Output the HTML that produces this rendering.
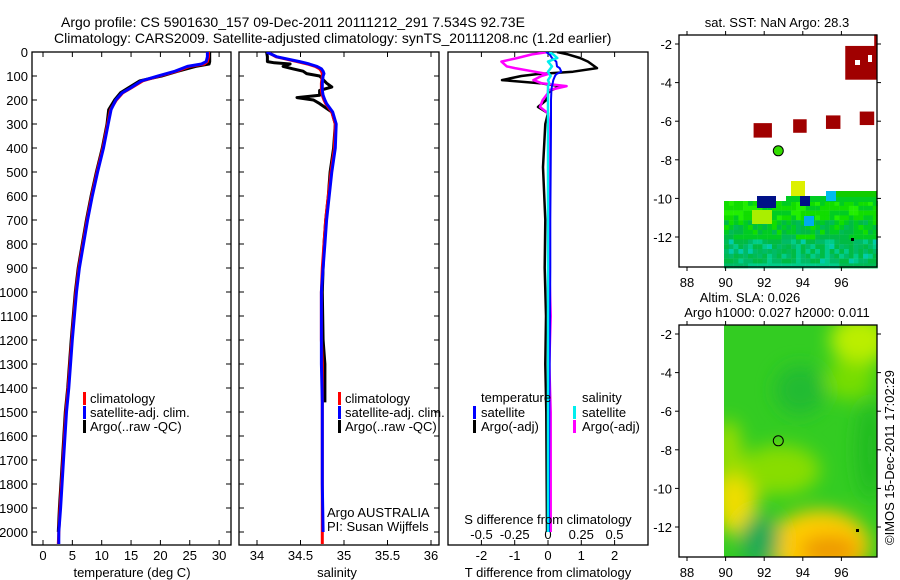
<!DOCTYPE html>
<html><head><meta charset="utf-8">
<style>
html,body{margin:0;padding:0;background:#fff;}
svg{display:block;font-family:"Liberation Sans",sans-serif;}
text{font-size:13px;fill:#000;}
</style></head>
<body>
<svg id="fig" width="900" height="580" viewBox="0 0 900 580">
<defs>
<clipPath id="c1"><rect x="32" y="52" width="199" height="493"/></clipPath>
<clipPath id="c2"><rect x="239" y="52" width="200" height="493"/></clipPath>
<clipPath id="c3"><rect x="448" y="52" width="200" height="493"/></clipPath>
<clipPath id="cm2"><rect x="724" y="325" width="153" height="232"/></clipPath>
<filter id="blur" x="-50%" y="-50%" width="200%" height="200%"><feGaussianBlur stdDeviation="9"/></filter>
</defs>
<text x="61" y="27" style="font-size:14px">Argo profile: CS 5901630_157 09-Dec-2011 20111212_291 7.534S 92.73E</text>
<text x="54" y="43" style="font-size:14px">Climatology: CARS2009. Satellite-adjusted climatology: synTS_20111208.nc (1.2d earlier)</text>
<g id="g1"></g>
<g id="g2"></g>
<g id="g3"></g>
<g id="m1"></g>
<g id="m2"></g>
<text transform="translate(894,545) rotate(-90)">©IMOS 15-Dec-2011 17:02:29</text>
</svg>
<script>
// ---- data ----
const depths = [0,20,40,50,60,80,100,120,150,170,200,240,300,400,500,600,700,800,900,1000,1200,1400,1500,1700,1900,2000,2050];
const tempClim = [28.2,28.2,28.0,27.5,25.0,22.8,19.8,17.0,15.0,13.6,12.5,11.5,11.0,10.2,9.2,8.3,7.5,6.8,6.1,5.6,4.9,4.3,3.9,3.4,2.9,2.7,2.6];
const tempSat  = [28.0,28.0,27.8,27.0,24.6,22.5,19.6,16.8,14.9,13.5,12.4,11.6,11.1,10.3,9.3,8.4,7.6,6.9,6.2,5.7,5.0,4.4,4.0,3.5,3.0,2.7,2.7];
const tempArgo = [28.4,28.4,28.4,28.3,26.0,23.0,20.2,16.5,14.5,13.2,12.2,11.2,10.9,10.1,9.1,8.2,7.4,6.7,6.0,5.5,4.8,4.2,3.8,3.3,2.8,2.6,null];
const salDepth = [0,20,40,45,50,60,70,80,90,100,130,146,160,180,190,200,215,250,300,400,500,600,700,800,900,1000,1200,1300,1460,1500,1800,2000,2050];
const salClim  = [34.12,34.22,34.46,34.52,34.58,34.67,34.72,34.74,34.75,34.75,34.74,34.74,34.74,34.75,34.76,34.77,34.79,34.86,34.90,34.89,34.85,34.82,34.79,34.77,34.75,34.74,34.74,34.75,34.75,34.75,34.75,34.75,34.75];
const salSat   = [34.11,34.23,34.49,34.55,34.6,34.69,34.74,34.76,34.77,34.76,34.75,34.75,34.75,34.76,34.77,34.78,34.8,34.87,34.91,34.9,34.86,34.83,34.8,34.78,34.76,34.74,34.74,34.74,34.75,34.75,34.75,34.76,null];
const salArgo  = [34.11,34.12,34.12,34.2,34.38,34.30,34.41,34.53,34.57,34.72,34.80,34.86,34.72,34.72,34.46,34.65,34.72,34.86,34.90,34.88,34.84,34.82,34.79,34.77,34.76,34.75,34.76,34.78,34.78,null,null,null,null];
const diffDepth = [0,10,25,40,60,67,82,92,100,117,130,142,160,171,200,229,255,300,480,700,900,1100,1300,1500,1800,2000];
const dTsat  = [-0.06,0.05,0.12,0.25,0.27,0.35,0.4,0.25,0.21,0.16,0.14,0.12,0.1,0.1,0.09,0.09,0.09,0.09,0.08,0.07,0.07,0.06,0.05,0.04,0.03,0.03];
const dTargo = [0.27,0.6,0.96,1.2,1.4,1.47,0.75,-0.33,-0.8,-1.38,-0.25,0.36,0.1,0.0,-0.05,-0.3,0.0,-0.08,-0.15,-0.08,-0.1,-0.06,-0.08,-0.05,-0.04,-0.03];
const dSsat  = [0.01,0.04,0.07,0.0,0.03,0.02,0.0,0.01,0.02,0.0,0.01,0.0,0.0,0.0,0.0,0.0,0.0,0.0,0.0,0.0,0.0,0.0,0.0,0.0,0.0,0.0];
const dSargo = [0.0,-0.12,-0.23,-0.35,-0.31,-0.25,-0.1,0.0,-0.05,-0.11,-0.05,0.14,0.0,0.0,-0.04,-0.06,0.0,0.01,0.01,0.01,0.01,0.02,0.01,0.02,0.02,0.02];
const depthTicks = [0,100,200,300,400,500,600,700,800,900,1000,1100,1200,1300,1400,1500,1600,1700,1800,1900,2000];
const tempTicks = [0,5,10,15,20,25,30];
const salTicks = [34,34.5,35,35.5,36];
const dTTicks = [-2,-1,0,1,2];
const dSTicks = [-0.5,-0.25,0,0.25,0.5];
const lonTicks = [88,90,92,94,96];
const latTicks = [-2,-4,-6,-8,-10,-12];
const argoLon = 92.73, argoLat = -7.534;
// SST red blocks [lon0, lon1, lat0, lat1]
const sstBlocks = [[96.2,97.85,-2.1,-3.85],[97.7,97.85,-1.5,-2.6],[91.45,92.4,-6.1,-6.85],[93.5,94.2,-5.9,-6.6],[95.2,95.95,-5.7,-6.4],[96.95,97.7,-5.5,-6.2]];

const NS='http://www.w3.org/2000/svg';
function el(p,tag,attrs){const e=document.createElementNS(NS,tag);for(const k in attrs)e.setAttribute(k,attrs[k]);p.appendChild(e);return e;}
const yD = d => 52 + d*0.24;
const xT = t => 43 + t*5.87;
const xS = s => 257 + (s-34)*87;
const xdT = v => 548 + v*33.3;
const xdS = v => 548 + v*133;
const mx = lon => 687 + (lon-88)*19.3;
const my1 = lat => 44 + (-2-lat)*19.3;
const my2 = lat => 334 + (-2-lat)*19.3;

function panelFrame(g,x0,x1,leftLabels){
  const r=el(g,'rect',{x:x0,y:52,width:x1-x0,height:493,fill:'none',stroke:'#000','stroke-width':1.3});
  
  
  depthTicks.forEach(d=>{
    el(g,'line',{x1:x0,x2:x0+5,y1:yD(d),y2:yD(d),stroke:'#000'});
    el(g,'line',{x1:x1-5,x2:x1,y1:yD(d),y2:yD(d),stroke:'#000'});
    if(leftLabels){const t=el(g,'text',{x:28,y:yD(d)+5,'text-anchor':'end'});t.textContent=d;
      
      }
  });
}
function xTicks(g,vals,fx,labelY){
  vals.forEach(v=>{const x=fx(v);
    el(g,'line',{x1:x,x2:x,y1:52,y2:57,stroke:'#000'});
    el(g,'line',{x1:x,x2:x,y1:540,y2:545,stroke:'#000'});
    const t=el(g,'text',{x:x,y:labelY,'text-anchor':'middle'});t.textContent=v;
    
    
  });
}
function line(g,ds,vs,fx,color,w,name){
  let d='',pen=false;
  ds.forEach((dd,i)=>{const v=vs[i];if(v===null||v===undefined){pen=false;return;}
    d+=(pen?'L':'M')+fx(v).toFixed(1)+','+yD(dd).toFixed(1);pen=true;});
  const p=el(g,'path',{d:d,fill:'none',stroke:color,'stroke-width':w,'stroke-linejoin':'round'});
  
  
}
function txt(g,x,y,s,name,anchor){const t=el(g,'text',{x:x,y:y,'text-anchor':anchor||'start'});t.textContent=s;
  
  return t;}
function legend(g,x,y,items){
  items.forEach((it,i)=>{
    el(g,'rect',{x:x,y:y+i*14-10,width:3,height:13,fill:it[0]});
    txt(g,x+7,y+i*14+1,it[1],'legend-entry');
  });
}

// Panel 1
const g1=document.getElementById('g1');
panelFrame(g1,32,231,true);
xTicks(g1,tempTicks,xT,560);
const c1=el(g1,'g',{'clip-path':'url(#c1)'});
line(c1,depths,tempArgo,xT,'#000',3,'temp-argo-line');
line(c1,depths,tempClim,xT,'#f00',3,'temp-climatology-line');
line(c1,depths,tempSat,xT,'#00f',3,'temp-satellite-line');
txt(g1,132,577,'temperature (deg C)','x-axis-title','middle');
legend(g1,83,402,[['#f00','climatology'],['#00f','satellite-adj. clim.'],['#000','Argo(..raw -QC)']]);

// Panel 2
const g2=document.getElementById('g2');
panelFrame(g2,239,439,false);
xTicks(g2,salTicks,xS,560);
const c2=el(g2,'g',{'clip-path':'url(#c2)'});
line(c2,salDepth,salArgo,xS,'#000',3,'sal-argo-line');
line(c2,salDepth,salClim,xS,'#f00',3,'sal-climatology-line');
line(c2,salDepth,salSat,xS,'#00f',3,'sal-satellite-line');
txt(g2,337,577,'salinity','x-axis-title','middle');
legend(g2,338,402,[['#f00','climatology'],['#00f','satellite-adj. clim.'],['#000','Argo(..raw -QC)']]);
txt(g2,327,517,'Argo AUSTRALIA','argo-country');
txt(g2,327,531,'PI: Susan Wijffels','pi-name');

// Panel 3
const g3=document.getElementById('g3');
const fr=el(g3,'rect',{x:448,y:52,width:200,height:493,fill:'none',stroke:'#000','stroke-width':1.3});


xTicks(g3,dTTicks,xdT,560);
dSTicks.forEach(v=>{txt(g3,xdS(v),539,String(v),'s-tick-label','middle');});
const c3=el(g3,'g',{'clip-path':'url(#c3)'});
line(c3,diffDepth,dTargo,xdT,'#000',2.5,'dT-argo-line');
line(c3,diffDepth,dSargo,xdS,'#f0f',2.5,'dS-argo-line');
line(c3,diffDepth,dTsat,xdT,'#00f',2,'dT-satellite-line');
line(c3,diffDepth,dSsat,xdS,'#0ee',2.5,'dS-satellite-line');
txt(g3,548,524,'S difference from climatology','s-axis-title','middle');
txt(g3,548,577,'T difference from climatology','x-axis-title','middle');
txt(g3,481,402,'temperature','legend-heading');
txt(g3,582,402,'salinity','legend-heading');
[['#00f','satellite',473],['#000','Argo(-adj)',473]].forEach((it,i)=>{el(g3,'rect',{x:it[2],y:406+i*14,width:3,height:13,fill:it[0]});txt(g3,it[2]+8,417+i*14,it[1],'legend-entry');});
[['#0ee','satellite',573],['#f0f','Argo(-adj)',573]].forEach((it,i)=>{el(g3,'rect',{x:it[2],y:406+i*14,width:3,height:13,fill:it[0]});txt(g3,it[2]+9,417+i*14,it[1],'legend-entry');});

// Map frames
function mapFrame(g,my,top){
  const r=el(g,'rect',{x:679,y:top,width:198,height:232,fill:'none',stroke:'#000','stroke-width':1.3});
  
  
  lonTicks.forEach(l=>{const x=mx(l);
    el(g,'line',{x1:x,x2:x,y1:top,y2:top-4,stroke:'#000'});
    el(g,'line',{x1:x,x2:x,y1:top+232,y2:top+236,stroke:'#000'});
    txt(g,x,top+252,l,'lon-tick-label','middle');});
  latTicks.forEach(l=>{const y=my(l);
    el(g,'line',{x1:679,x2:675,y1:y,y2:y,stroke:'#000'});
    el(g,'line',{x1:877,x2:881,y1:y,y2:y,stroke:'#000'});
    txt(g,672,y+5,l,'lat-tick-label','end');});
}
// SST map
const m1=document.getElementById('m1');
txt(m1,777,27,'sat. SST: NaN Argo: 28.3','map-title','middle');
const pal=['#00cc22','#00bb44','#11dd00','#00bb66','#00cc88','#22ee00','#00bb55','#00ccaa'];
for(let r=0;r<14;r++){for(let c=0;c<32;c++){
  const x=724+c*4.8,y=201+r*4.8; if(x>877)continue;
  let h=((r*131+c*71+r*c*17)%97)/97;
  let idx;
  if(r<4) idx= h<0.5?2:(h<0.8?0:5);
  else if(r<8) idx= h<0.4?0:(h<0.7?1:(h<0.85?2:6));
  else idx= h<0.35?1:(h<0.6?3:(h<0.8?4:(h<0.9?6:7)));
  if(r<4&&c<8&&h>0.7) idx=5;
  el(m1,'rect',{x:x,y:y,width:5,height:5,fill:pal[idx]});
}}
[[786,196,877,'#00cc22'],[832,191,877,'#11cc00']].forEach(b=>el(m1,'rect',{x:b[0],y:b[1],width:b[2]-b[0],height:6,fill:b[3]}));
el(m1,'rect',{x:791,y:181,width:14,height:15,fill:'#ddf000'});
el(m1,'rect',{x:757,y:196,width:19,height:12,fill:'#001188'});
el(m1,'rect',{x:800,y:196,width:10,height:10,fill:'#001188'});
el(m1,'rect',{x:826,y:191,width:10,height:10,fill:'#00bbee'});
el(m1,'rect',{x:804,y:216,width:10,height:10,fill:'#00aaee'});
el(m1,'rect',{x:752,y:210,width:20,height:14,fill:'#aaee00'});
sstBlocks.forEach(b=>{const x0=mx(b[0]),x1=mx(b[1]),y0=my1(b[2]),y1=my1(b[3]);
  const r=el(m1,'rect',{x:x0,y:y0,width:x1-x0,height:y1-y0,fill:'#a00000'});
  
  });
el(m1,'rect',{x:855,y:60,width:5,height:5,fill:'#fff'});
el(m1,'rect',{x:868,y:55,width:4,height:7,fill:'#fff'});
const ac1=el(m1,'circle',{cx:mx(argoLon),cy:my1(argoLat),r:5,fill:'#33dd00',stroke:'#000'});


el(m1,'rect',{x:851,y:238,width:3,height:3,fill:'#000'});
mapFrame(m1,my1,35);

// SLA map
const m2=document.getElementById('m2');
txt(m2,750,302,'Altim. SLA: 0.026','map-title','middle');
txt(m2,777,317,'Argo h1000: 0.027 h2000: 0.011','map-subtitle','middle');
const cg=el(m2,'g',{'clip-path':'url(#cm2)'});
el(cg,'rect',{x:724,y:325,width:153,height:232,fill:'#33cc22'});
const bg=el(cg,'g',{filter:'url(#blur)'});
[[860,340,30,25,'#bbee00'],[850,380,25,20,'#77dd00'],[735,495,22,40,'#eedd00'],[728,450,14,30,'#99dd00'],[820,545,50,35,'#ffcc00'],[830,550,30,15,'#ee9900'],[780,470,40,25,'#88dd00'],[760,540,20,25,'#22aa55'],[800,390,25,25,'#22bb33'],[870,450,14,50,'#22bb22']].forEach(e=>el(bg,'ellipse',{cx:e[0],cy:e[1],rx:e[2],ry:e[3],fill:e[4]}));
const ac2=el(m2,'circle',{cx:mx(argoLon),cy:my2(argoLat),r:5,fill:'none',stroke:'#000'});


el(m2,'rect',{x:856,y:529,width:3,height:3,fill:'#000'});
mapFrame(m2,my2,325);
</script>
</body></html>
